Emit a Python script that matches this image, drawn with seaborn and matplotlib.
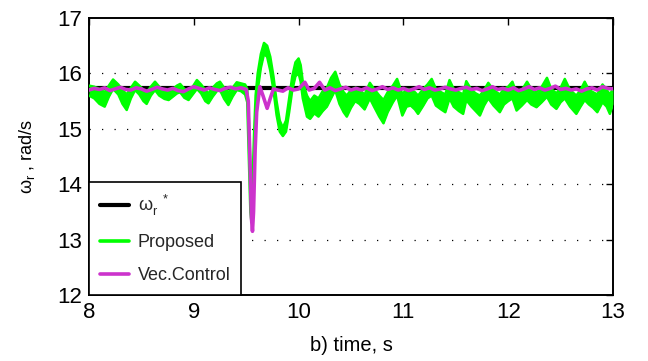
import numpy as np
import pandas as pd
import matplotlib
matplotlib.use("Agg")
import matplotlib.pyplot as plt
from matplotlib.lines import Line2D
import seaborn as sns

# ---------------- data ----------------
ref_t = [8.0, 13.0]
ref_w = [15.73, 15.73]

green_t = [8.00, 8.05, 8.10, 8.15, 8.19, 8.23, 8.28, 8.32, 8.36, 8.40, 8.44, 8.48,
           8.52, 8.55, 8.59, 8.63, 8.67, 8.72, 8.76, 8.80, 8.84, 8.87, 8.91, 8.95,
           8.99, 9.03, 9.07, 9.11, 9.14, 9.18, 9.22, 9.25, 9.29, 9.33, 9.37, 9.41,
           9.45, 9.49, 9.51, 9.525, 9.54, 9.55, 9.56, 9.575, 9.59, 9.61, 9.64, 9.67,
           9.70, 9.73, 9.76, 9.79, 9.82, 9.85, 9.88, 9.91, 9.94, 9.97, 10.00, 10.02,
           10.04, 10.08, 10.11, 10.15, 10.19, 10.23, 10.27, 10.31, 10.35, 10.39, 10.43, 10.46,
           10.50, 10.54, 10.58, 10.63, 10.68, 10.72, 10.77, 10.81, 10.85, 10.90, 10.94, 10.99,
           11.03, 11.07, 11.11, 11.14, 11.19, 11.23, 11.27, 11.31, 11.36, 11.40, 11.44, 11.48,
           11.53, 11.57, 11.60, 11.65, 11.69, 11.73, 11.77, 11.81, 11.86, 11.92, 11.96, 12.00,
           12.04, 12.08, 12.13, 12.18, 12.22, 12.27, 12.32, 12.37, 12.41, 12.46, 12.50, 12.54,
           12.59, 12.65, 12.69, 12.73, 12.77, 12.81, 12.85, 12.90, 12.94, 12.97, 13.00]
green_hi = [15.78, 15.76, 15.72, 15.66, 15.78, 15.89, 15.80, 15.70, 15.62, 15.74, 15.85, 15.78,
            15.70, 15.66, 15.76, 15.85, 15.76, 15.68, 15.66, 15.72, 15.78, 15.81, 15.72, 15.68,
            15.76, 15.88, 15.80, 15.70, 15.64, 15.74, 15.82, 15.85, 15.74, 15.66, 15.74, 15.84,
            15.82, 15.80, 15.72, 15.20, 14.30, 13.75, 14.00, 14.90, 15.60, 16.00, 16.35, 16.55,
            16.50, 16.30, 15.95, 15.50, 15.15, 15.02, 15.15, 15.55, 15.95, 16.20, 16.27, 16.15,
            15.85, 15.60, 15.50, 15.60, 15.55, 15.68, 15.74, 15.92, 16.03, 15.80, 15.66, 15.60,
            15.70, 15.74, 15.70, 15.62, 15.83, 15.72, 15.60, 15.52, 15.66, 15.78, 15.90, 15.62,
            15.72, 15.70, 15.66, 15.60, 15.72, 15.80, 15.90, 15.72, 15.66, 15.62, 15.88, 15.72,
            15.66, 15.62, 15.86, 15.70, 15.64, 15.60, 15.70, 15.83, 15.70, 15.62, 15.72, 15.76,
            15.85, 15.64, 15.70, 15.85, 15.72, 15.66, 15.76, 15.92, 15.72, 15.64, 15.74, 15.90,
            15.70, 15.60, 15.70, 15.85, 15.70, 15.66, 15.62, 15.80, 15.70, 15.62, 15.72]
green_lo = [15.60, 15.55, 15.45, 15.40, 15.58, 15.72, 15.62, 15.45, 15.34, 15.55, 15.70, 15.62,
            15.50, 15.45, 15.60, 15.70, 15.60, 15.54, 15.52, 15.58, 15.64, 15.66, 15.56, 15.52,
            15.62, 15.72, 15.64, 15.50, 15.46, 15.58, 15.68, 15.70, 15.54, 15.43, 15.58, 15.70,
            15.68, 15.62, 15.48, 14.50, 13.50, 13.32, 13.45, 14.30, 15.20, 15.70, 16.10, 16.35,
            16.30, 16.05, 15.70, 15.25, 14.95, 14.87, 14.95, 15.30, 15.70, 15.95, 16.00, 15.85,
            15.55, 15.22, 15.18, 15.28, 15.22, 15.32, 15.40, 15.55, 15.70, 15.45, 15.30, 15.22,
            15.38, 15.50, 15.45, 15.35, 15.55, 15.40, 15.22, 15.10, 15.30, 15.48, 15.60, 15.24,
            15.40, 15.42, 15.35, 15.27, 15.42, 15.55, 15.60, 15.42, 15.35, 15.30, 15.55, 15.40,
            15.32, 15.27, 15.52, 15.40, 15.32, 15.24, 15.42, 15.55, 15.42, 15.30, 15.44, 15.50,
            15.55, 15.33, 15.42, 15.52, 15.44, 15.39, 15.48, 15.58, 15.44, 15.36, 15.48, 15.55,
            15.40, 15.27, 15.40, 15.52, 15.44, 15.38, 15.30, 15.48, 15.40, 15.27, 15.45]

vec_t = [8.00, 8.05, 8.10, 8.15, 8.20, 8.25, 8.30, 8.35, 8.40, 8.45, 8.50, 8.55, 8.60,
         8.65, 8.70, 8.75, 8.80, 8.85, 8.90, 8.95, 9.00, 9.05, 9.10, 9.15, 9.20, 9.25,
         9.30, 9.35, 9.40, 9.45, 9.50,
         9.52, 9.535, 9.55, 9.56, 9.57, 9.585, 9.60, 9.63, 9.66, 9.70, 9.73, 9.76, 9.80,
         9.85, 9.90, 9.95, 10.00, 10.06, 10.10, 10.15, 10.20, 10.25, 10.30, 10.35, 10.40,
         10.45, 10.50, 10.55, 10.60, 10.65, 10.70, 10.75, 10.80, 10.85, 10.90, 10.95, 11.00,
         11.05, 11.10, 11.15, 11.20, 11.25, 11.30, 11.35, 11.40, 11.45, 11.50, 11.55, 11.60,
         11.65, 11.70, 11.75, 11.80, 11.85, 11.90, 11.95, 12.00, 12.05, 12.10, 12.15, 12.20,
         12.25, 12.30, 12.35, 12.40, 12.45, 12.50, 12.55, 12.60, 12.65, 12.70, 12.75, 12.80,
         12.85, 12.90, 12.95, 13.00]
vec_w = [15.70, 15.73, 15.71, 15.74, 15.69, 15.72, 15.75, 15.71, 15.70, 15.74, 15.72, 15.68, 15.71,
         15.75, 15.72, 15.70, 15.73, 15.69, 15.67, 15.72, 15.76, 15.73, 15.70, 15.74, 15.71, 15.69,
         15.73, 15.75, 15.72, 15.74, 15.71,
         15.50, 14.50, 13.40, 13.15, 13.50, 14.60, 15.30, 15.76, 15.60, 15.37, 15.55, 15.72, 15.70,
         15.68, 15.74, 15.70, 15.72, 15.84, 15.70, 15.73, 15.84, 15.70, 15.74, 15.69, 15.72,
         15.75, 15.70, 15.73, 15.70, 15.74, 15.69, 15.72, 15.76, 15.71, 15.74, 15.70, 15.73,
         15.69, 15.72, 15.76, 15.71, 15.74, 15.70, 15.72, 15.75, 15.72, 15.70, 15.73, 15.75,
         15.71, 15.73, 15.69, 15.72, 15.76, 15.71, 15.73, 15.70, 15.74, 15.69, 15.72, 15.76,
         15.71, 15.74, 15.70, 15.73, 15.77, 15.71, 15.73, 15.70, 15.72, 15.68, 15.72, 15.74,
         15.70, 15.76, 15.73, 15.72]

labels = [r"$\omega_r^{\ \ *}$", "Proposed", "Vec.Control"]
xticks = [8, 9, 10, 11, 12, 13]
yticks = [12, 13, 14, 15, 16, 17]

# ---------------- style ----------------
sns.set_theme(style="white")
plt.rcParams["font.family"] = ["Liberation Sans", "DejaVu Sans"]
plt.rcParams["mathtext.fontset"] = "custom"
plt.rcParams["mathtext.rm"] = "Liberation Sans"
plt.rcParams["mathtext.it"] = "Liberation Sans"
plt.rcParams["mathtext.bf"] = "Liberation Sans:bold"

C_GREEN = "#00ff00"
C_MAG = "#cc33cc"

fig = plt.figure(figsize=(6.48, 3.61), dpi=100)
ax = fig.add_axes([0.1373, 0.1828, 0.8087, 0.7673])

ref_df = pd.DataFrame({"t": ref_t, "w": ref_w})
g_df = pd.DataFrame({"t": green_t, "hi": green_hi, "lo": green_lo})
v_df = pd.DataFrame({"t": vec_t, "w": vec_w})

# grid (horizontal dotted)
for yv in [13, 14, 15, 16]:
    ax.axhline(yv, color="black", lw=0.9, ls=(0, (1, 9)), zorder=1)

sns.lineplot(data=ref_df, x="t", y="w", color="black", lw=3.0, ax=ax,
             estimator=None, legend=False, zorder=2)
ax.fill_between(g_df["t"], g_df["lo"], g_df["hi"], color=C_GREEN, lw=0, zorder=3)
sns.lineplot(data=g_df, x="t", y="hi", color=C_GREEN, lw=1.8, ax=ax,
             estimator=None, legend=False, zorder=3)
sns.lineplot(data=g_df, x="t", y="lo", color=C_GREEN, lw=1.8, ax=ax,
             estimator=None, legend=False, zorder=3)
sns.lineplot(data=v_df, x="t", y="w", color=C_MAG, lw=2.6, ax=ax,
             estimator=None, legend=False, zorder=4)

ax.set_xlim(8, 13)
ax.set_ylim(12, 17)
ax.set_xticks(xticks)
ax.set_yticks(yticks)
ax.set_xticklabels([str(v) for v in xticks])
ax.set_yticklabels([str(v) for v in yticks])
ax.tick_params(direction="in", top=True, right=True, length=5, width=1,
               labelsize=16, colors="black", pad=5)
for s in ax.spines.values():
    s.set_color("black")
    s.set_linewidth(1.4)

ax.set_xlabel("b) time, s", fontsize=14.5, color="black")
ax.set_ylabel(r"$\omega_r$ , rad/s", fontsize=13, color="black")
ax.xaxis.label.set_va("center")
ax.yaxis.label.set_va("center")
ax.xaxis.set_label_coords(0.5, -0.183)
ax.yaxis.set_label_coords(-0.118, 0.5)

handles = [Line2D([], [], color="black", lw=3.0),
           Line2D([], [], color=C_GREEN, lw=2.6),
           Line2D([], [], color=C_MAG, lw=2.6)]
leg = ax.legend(handles, labels, loc="lower left", fontsize=13, frameon=True,
                fancybox=False, framealpha=1, edgecolor="black", borderaxespad=0,
                handlelength=1.6, handletextpad=0.5, labelspacing=0.88,
                borderpad=0.6)
leg.get_frame().set_linewidth(1.2)
leg.set_zorder(10)

fig.savefig("out.png", dpi=100, facecolor="white")
